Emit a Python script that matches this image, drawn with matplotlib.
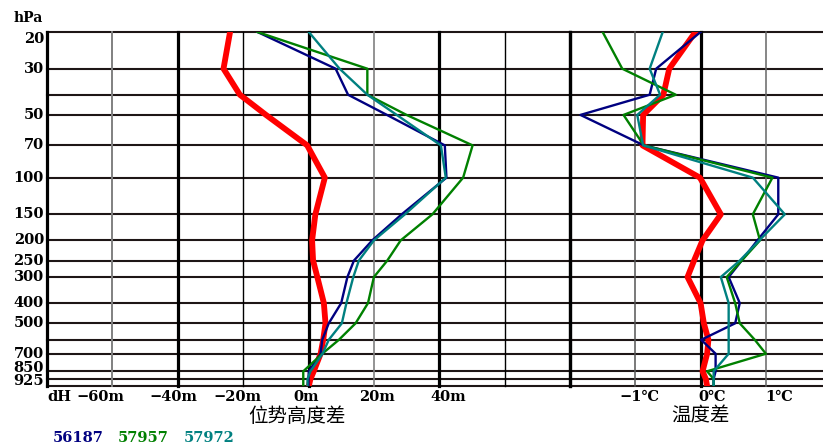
import matplotlib
matplotlib.use("Agg")
import matplotlib.pyplot as plt
from matplotlib.transforms import offset_copy


#____Data
levels = [20, 30, 40, 50, 70, 100, 150, 200, 250, 300, 400, 500, 600, 700, 850, 925, 1000]
level_labels = ["20", "30", "50", "70", "100", "150", "200", "250", "300", "400", "500", "700", "850", "925"]
stations = ["56187", "57957", "57972"]

# geopotential height difference (m)
dh_56187 = [-15.6, 8.3, 12.1, 24, 41.7, 42.2, 28.5, 19.5, 13.9, 11.9, 10.0, 6.2, 4.2, 3.7, 0.1, 0.0, 0.0]
dh_57957 = [-15.6, 18, 18, 30, 50.2, 47.3, 37.9, 28.2, 24.1, 20, 18.2, 14.4, 9.3, 4.2, -1.6, -1.6, -1.6]
dh_57972 = [0.1, 9.5, 18, 27, 40.5, 42, 29.5, 20, 15.4, 13.7, 11.6, 10.2, 6.2, 4.3, 0.6, -0.3, -0.3]
dh_mean = [-24, -26, -21, -13, -0.4, 5, 2.1, 1.1, 1.4, 2.7, 4.7, 5.2, 4.5, 3.7, 1.6, 0.6, 0.1]

# temperature difference (degC)
dt_56187 = [0.0, -0.68, -0.78, -1.84, -0.87, 1.19, 1.19, 0.87, 0.63, 0.43, 0.6, 0.53, 0.01, 0.23, 0.23, 0.2, 0.2]
dt_57957 = [-1.5, -1.2, -0.38, -1.18, -0.87, 1.1, 0.8, 0.91, 0.63, 0.4, 0.53, 0.6, 0.83, 1.0, 0.1, 0.2, 0.2]
dt_57972 = [-0.58, -0.78, -0.62, -0.97, -0.88, 0.8, 1.29, 0.9, 0.6, 0.31, 0.43, 0.43, 0.43, 0.43, 0.2, 0.2, 0.2]
dt_mean = [-0.08, -0.48, -0.57, -0.88, -0.89, -0.01, 0.31, 0.03, -0.1, -0.2, 0.0, 0.05, 0.12, 0.1, 0.03, 0.08, 0.1]

dh_ticks = [-63.6, -41.5, -21.6, -0.8, 21.0, 42.9]
dh_tick_labels = ["\u221260m", "\u221240m", "\u221220m", "0m", "20m", "40m"]
dt_ticks = [-0.93, 0.17, 1.2]
dt_tick_labels = ["\u22121\u2103", "0\u2103", "1\u2103"]

station_colors = ["#000080", "#008000", "#008080"]
serif = ["DejaVu Serif", "Noto Sans CJK SC"]
cjk = ["Noto Sans CJK SC", "DejaVu Sans"]


#____Grid helpers
def draw_levels(ax):
    for p in levels:
        ax.axhline(p, color="#1e1616", lw=1.5, clip_on=False, zorder=1)


def draw_verticals(ax, grid):
    for x, color, lw in grid:
        ax.axvline(x, color=color, lw=lw, clip_on=False, zorder=1)


def setup_axes(ax, xlim):
    ax.set_yscale("log")
    ax.set_ylim(1000, 20)
    ax.set_xlim(*xlim)
    ax.minorticks_off()
    ax.set_xticks([])
    ax.set_yticks([])
    ax.patch.set_visible(False)
    for s in ax.spines.values():
        s.set_visible(False)


fig = plt.figure(figsize=(8.23, 4.44), dpi=100)
ax_h = fig.add_axes([0.0571, 0.1306, 0.6355, 0.7973])
ax_t = fig.add_axes([0.6926, 0.1306, 0.3074, 0.7973])

setup_axes(ax_h, (-80, 80))
setup_axes(ax_t, (-2, 1.875))

draw_levels(ax_h)
draw_levels(ax_t)
draw_verticals(ax_h, [(-80, "k", 2.3), (-60, "#808080", 1.4), (-40, "k", 2.3), (-20, "k", 1.0),
                      (0, "k", 2.3), (20, "#808080", 1.2), (40, "k", 2.3), (60, "k", 1.0), (80, "k", 2.3)])
draw_verticals(ax_t, [(-2, "k", 2.3), (-1, "#555555", 1.1), (0, "k", 2.3), (1, "#666666", 1.1)])

#____Profiles
ax_h.plot(dh_mean, levels, color="red", lw=4.2, zorder=3, solid_joinstyle="round")
ax_t.plot(dt_mean, levels, color="red", lw=4.2, zorder=3, solid_joinstyle="round")
for dh, dt, c in zip([dh_56187, dh_57957, dh_57972], [dt_56187, dt_57957, dt_57972], station_colors):
    ax_h.plot(dh, levels, color=c, lw=1.7, zorder=4)
    ax_t.plot(dt, levels, color=c, lw=1.7, zorder=4)

#____Labels
ytr = ax_h.get_yaxis_transform()
# the two lowest labels sit very close; nudge them apart a little
nudge = {"850": 3, "925": -2.5}
for lab in level_labels:
    p = float(lab)
    va = "top" if p == levels[0] else "center"
    tr = offset_copy(ytr, fig=fig, x=0, y=nudge.get(lab, 0), units="dots")
    ax_h.text(-0.006, p, lab, transform=tr, ha="right", va=va, fontsize=10.5,
              fontweight="bold", family=serif)

fig.text(0.034, 0.959, "hPa", ha="center", va="center", fontsize=10, fontweight="bold", family=serif)

xtr_h = ax_h.get_xaxis_transform()
ax_h.text(-79.8, -0.032, "dH", transform=xtr_h, ha="left", va="center", fontsize=10.5,
          fontweight="bold", family=serif)
for x, lab in zip(dh_ticks, dh_tick_labels):
    ax_h.text(x, -0.032, lab, transform=xtr_h, ha="center", va="center", fontsize=10.5,
              fontweight="bold", family=serif)
ax_h.text(-3.4, -0.085, "位势高度差", transform=xtr_h, ha="center", va="center", fontsize=14,
          family=cjk)

xtr_t = ax_t.get_xaxis_transform()
for x, lab in zip(dt_ticks, dt_tick_labels):
    ax_t.text(x, -0.032, lab, transform=xtr_t, ha="center", va="center", fontsize=10.5,
              fontweight="bold", family=serif)
ax_t.text(0.0, -0.085, "温度差", transform=xtr_t, ha="center", va="center", fontsize=14,
          family=cjk)

for x, name, c in zip([0.0644, 0.1434, 0.2236], stations, station_colors):
    fig.text(x, 0.0146, name, ha="left", va="center", fontsize=10.5, fontweight="bold",
             family=serif, color=c)

fig.savefig("out.png", dpi=100)
